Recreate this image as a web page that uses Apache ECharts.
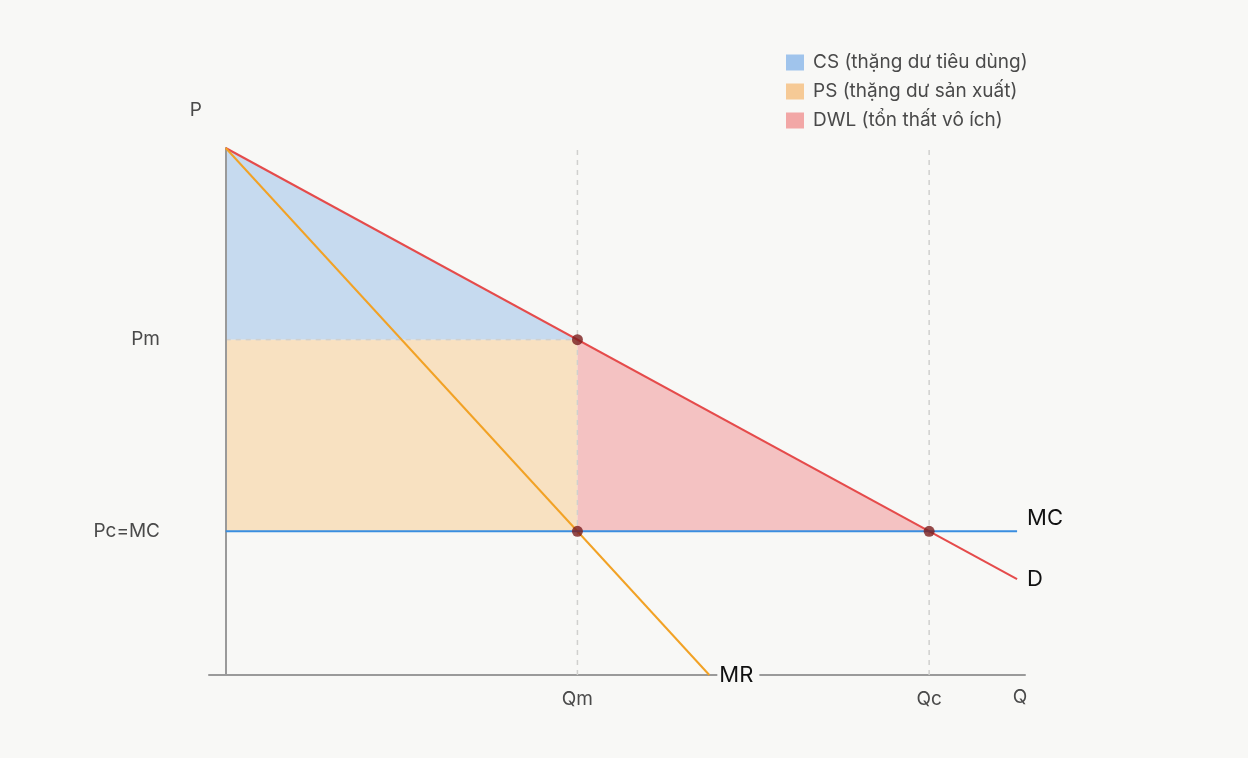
<!DOCTYPE html>
<html><head><meta charset="utf-8">
<script src="https://cdn.jsdelivr.net/npm/echarts@6/dist/echarts.min.js"></script>
<style>html,body{margin:0;padding:0;background:#f8f8f6}#c{width:1248px;height:758px}</style>
</head><body><div id="c"></div>
<script>
// Data
const legendNames = ['CS (thặng dư tiêu dùng)', 'PS (thặng dư sản xuất)', 'DWL (tổn thất vô ích)'];
const csArea = [[0, 11], [0, 7], [4, 7]];
const psArea = [[0, 7], [0, 3], [4, 3], [4, 7]];
const dwlArea = [[4, 7], [4, 3], [8, 3]];
const demand = [[0, 11], [9, 2]];
const mr = [[0, 11], [5.5, 0]];
const mc = [[0, 3], [9, 3]];
const qmGuide = [[4, 0], [4, 11]];
const qcGuide = [[8, 0], [8, 11]];
const pmGuide = [[0, 7], [4, 7]];
const equilibria = [[4, 7], [4, 3], [8, 3]];
const xTickValues = [4, 8];
const xTickLabels = ['Qm', 'Qc'];
const yTickValues = [3, 7];
const yTickLabels = ['Pc=MC', 'Pm'];

const FONT = 'Inter, "Noto Sans", sans-serif';
const chart = echarts.init(document.getElementById('c'));

function polySeries(name, data, legendColor, fill) {
  return {
    name, type: 'custom', data, z: 1,
    itemStyle: { color: legendColor },
    renderItem: function (params, api) {
      if (params.dataIndex !== 0) return null;
      const pts = data.map(p => api.coord(p));
      return { type: 'polygon', shape: { points: pts }, style: { fill: fill, stroke: null } };
    },
    encode: { x: 0, y: 1 },
    silent: true
  };
}
function guide(data) {
  return { type: 'line', data, showSymbol: false, silent: true, z: 2,
    lineStyle: { color: '#d0d0ce', width: 1.5, type: [5, 5] } };
}
function curve(name, data, color, label, offset) {
  return { name: name, type: 'line', data, showSymbol: false, z: 4, silent: true,
    lineStyle: { color, width: 2 },
    endLabel: { show: true, formatter: label, color: '#111', fontSize: 22, fontFamily: FONT,
      distance: 8, offset: offset || [0, 0], backgroundColor: '#f8f8f6', padding: [2, 6, 2, 2] } };
}

chart.setOption({
  backgroundColor: '#f8f8f6',
  animation: false,
  textStyle: { fontFamily: FONT },
  legend: {
    orient: 'vertical', left: 781, top: 48, itemWidth: 18, itemHeight: 16, itemGap: 10,
    icon: 'rect', data: legendNames, selectedMode: false,
    textStyle: { fontSize: 19, lineHeight: 17, color: '#4a4a4a', fontFamily: FONT, padding: [0, 0, 0, 4] }
  },
  grid: { left: 209, right: 223, top: 148, bottom: 83 },
  xAxis: {
    type: 'value', min: -0.19, max: 9.09,
    name: 'Q', nameLocation: 'end', nameGap: -5,
    nameTextStyle: { fontSize: 19, color: '#4a4a4a', align: 'center', verticalAlign: 'top', padding: [13, 0, 0, 0] },
    axisLine: { show: true, lineStyle: { color: '#9a9a9a', width: 2 } },
    axisTick: { show: false }, splitLine: { show: false },
    axisLabel: { customValues: xTickValues, margin: 15, fontSize: 19, color: '#4a4a4a',
      formatter: v => xTickLabels[xTickValues.indexOf(v)] || '' }
  },
  yAxis: {
    type: 'value', min: 0, max: 11, z: 3,
    name: 'P', nameLocation: 'end', nameGap: 28,
    nameTextStyle: { fontSize: 19, color: '#4a4a4a', align: 'center', padding: [0, 60, 0, 0] },
    axisLine: { show: true, onZero: true, lineStyle: { color: '#9a9a9a', width: 2 } },
    axisTick: { show: false }, splitLine: { show: false },
    axisLabel: { customValues: yTickValues, margin: 49, fontSize: 19, color: '#4a4a4a',
      formatter: v => yTickLabels[yTickValues.indexOf(v)] || '' }
  },
  series: [
    polySeries(legendNames[0], csArea, '#a0c4ec', '#c6daef'),
    polySeries(legendNames[1], psArea, '#f6ca96', '#f8e1c1'),
    polySeries(legendNames[2], dwlArea, '#f2a7a6', '#f4c2c2'),
    guide(qmGuide), guide(qcGuide), guide(pmGuide),
    curve('D', demand, '#e54b4b', 'D', [0, 0]),
    curve('MR', mr, '#f2a225', 'MR', [0, 0]),
    curve('MC', mc, '#3a8ee0', 'MC', [0, -13]),
    { type: 'scatter', data: equilibria, symbolSize: 11, z: 5, silent: true,
      itemStyle: { color: '#7a1d1d' } }
  ]
});
</script></body></html>
